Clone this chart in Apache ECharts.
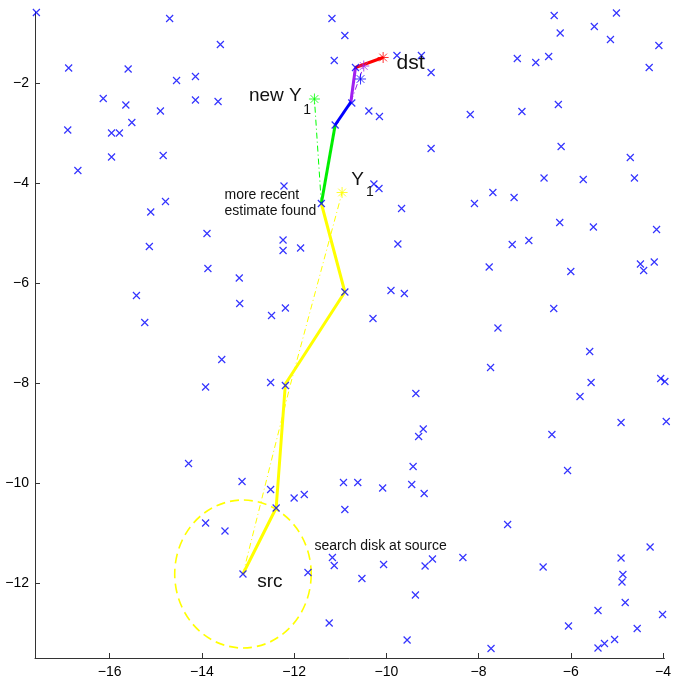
<!DOCTYPE html>
<html>
<head>
<meta charset="utf-8">
<script src="https://cdn.jsdelivr.net/npm/echarts@6/dist/echarts.min.js"></script>
<style>
html,body{margin:0;padding:0;background:#fff;}
#chart{width:674px;height:679px;}
</style>
</head>
<body>
<div id="chart"></div>
<script>
// ---- data ----
const nodes = [
  [-17.59,-0.59],[-14.70,-0.71],[-13.60,-1.23],[-11.18,-0.71],[-11.13,-1.55],
  [-16.89,-1.70],[-15.60,-1.72],[-14.55,-1.95],[-14.14,-1.87],[-16.14,-2.31],
  [-15.65,-2.44],[-14.14,-2.34],[-13.65,-2.37],[-14.90,-2.56],[-15.52,-2.79],
  [-16.91,-2.94],[-15.96,-3.00],[-15.79,-3.00],[-15.96,-3.48],[-14.84,-3.45],
  [-16.69,-3.75],[-11.11,-2.84],[-12.22,-4.06],[-14.79,-4.37],[-15.11,-4.58],
  [-11.41,-4.41],[-13.89,-5.01],[-15.14,-5.27],[-12.24,-5.14],[-12.24,-5.35],
  [-11.86,-5.30],[-13.87,-5.71],[-13.19,-5.90],[-15.42,-6.25],[-13.18,-6.41],
  [-15.24,-6.79],[-12.49,-6.65],[-12.19,-6.50],[-10.90,-1.05],[-9.77,-1.45],
  [-9.24,-1.45],[-9.03,-1.79],[-10.67,-1.69],[-10.75,-2.40],[-10.38,-2.56],
  [-10.15,-2.67],[-9.03,-3.31],[-10.27,-4.02],[-10.16,-4.11],[-9.67,-4.51],
  [-9.75,-5.22],[-10.90,-6.18],[-9.90,-6.15],[-9.61,-6.21],[-10.29,-6.71],
  [-7.58,-6.90],[-6.36,-0.65],[-5.01,-0.60],[-5.49,-0.87],[-6.23,-1.00],
  [-5.14,-1.13],[-4.09,-1.25],[-7.16,-1.51],[-6.76,-1.59],[-6.48,-1.47],
  [-4.30,-1.69],[-8.18,-2.63],[-7.06,-2.57],[-6.27,-2.43],[-6.21,-3.27],
  [-4.71,-3.49],[-6.58,-3.90],[-5.73,-3.93],[-4.62,-3.90],[-7.69,-4.19],
  [-7.23,-4.29],[-8.09,-4.41],[-6.24,-4.79],[-5.51,-4.88],[-4.14,-4.93],
  [-7.27,-5.23],[-6.91,-5.15],[-7.77,-5.68],[-6.00,-5.77],[-4.49,-5.62],
  [-4.42,-5.75],[-4.19,-5.58],[-6.37,-6.51],[-13.57,-7.53],[-13.92,-8.08],
  [-12.51,-7.99],[-12.19,-8.05],[-14.29,-9.61],[-13.13,-9.97],[-12.51,-10.13],
  [-12.39,-10.50],[-12.00,-10.30],[-11.78,-10.23],[-13.92,-10.80],[-13.50,-10.96],
  [-13.11,-11.82],[-11.70,-11.79],[-11.17,-11.49],[-11.13,-11.65],[-11.24,-12.80],
  [-5.59,-7.37],[-7.74,-7.69],[-5.56,-7.99],[-5.80,-8.27],[-9.36,-8.21],
  [-4.05,-7.91],[-3.96,-7.97],[-4.91,-8.79],[-3.93,-8.77],[-9.20,-8.92],
  [-9.30,-9.07],[-6.41,-9.03],[-6.07,-9.75],[-9.42,-9.67],[-10.93,-9.99],
  [-10.62,-9.99],[-10.08,-10.10],[-9.45,-10.03],[-9.18,-10.21],[-10.90,-10.53],
  [-7.37,-10.83],[-4.28,-11.28],[-10.06,-11.63],[-9.00,-11.52],[-9.16,-11.66],
  [-8.34,-11.49],[-10.53,-11.91],[-6.60,-11.68],[-4.91,-11.50],[-4.87,-11.83],
  [-4.89,-11.98],[-9.37,-12.24],[-4.82,-12.39],[-5.41,-12.55],[-4.01,-12.63],
  [-6.05,-12.86],[-4.56,-12.91],[-5.05,-13.13],[-5.27,-13.21],[-5.41,-13.30],
  [-9.55,-13.14],[-7.73,-13.31]
];

const yellowPath = [[-13.11,-11.82],[-12.39,-10.50],[-12.19,-8.02],[-10.90,-6.18],[-11.41,-4.41]];
const greenPath  = [[-11.41,-4.41],[-11.11,-2.84]];
const bluePath   = [[-11.11,-2.84],[-10.77,-2.38]];
const purplePath = [[-10.77,-2.38],[-10.67,-1.69]];
const redPath    = [[-10.67,-1.69],[-10.07,-1.49]];

const yellowEstimate = [[-13.11,-11.82],[-12.08,-8.03],[-10.96,-4.19]];
const greenEstimate  = [[-11.41,-4.41],[-11.56,-2.32]];
const purpleEstimate = [[-10.77,-2.38],[-10.49,-1.66]];

const yellowStar = [[-10.96,-4.19]];
const greenStar  = [[-11.56,-2.32]];
const purpleStar = [[-10.49,-1.66]];
const blueStar   = [[-10.56,-1.92]];
const redStar    = [[-10.07,-1.49]];

const searchDisk = [[-13.11,-11.82,1.48]]; // centre x, centre y, radius

const xTicks = [-16,-14,-12,-10,-8,-6,-4];
const yTicks = [-12,-10,-8,-6,-4,-2];

const annotations = [
  {text:'dst', at:[-9.78,-1.60], size:21},
  {text:'new Y', at:[-12.98,-2.25], size:19},
  {text:'1', at:[-11.80,-2.54], size:14},
  {text:'Y', at:[-10.76,-3.93], size:19},
  {text:'1', at:[-10.44,-4.18], size:14},
  {text:'more recent\nestimate found', at:[-13.51,-4.41], size:14},
  {text:'search disk at source', at:[-11.56,-11.26], size:14},
  {text:'src', at:[-12.80,-11.97], size:19}
];

// ---- chart ----
const FONT = '"Liberation Sans", Arial, Helvetica, sans-serif';
const xPath = 'path://M0,0L10,10M10,0L0,10';
const starPath = 'path://M5,0L5,10M0,5L10,5M1.5,1.5L8.5,8.5M8.5,1.5L1.5,8.5';
const minus = v => String(v).replace('-', '\u2212');

function lineSeries(data, color, width, type, z) {
  return {
    type: 'line', data: data, symbol: 'none', silent: true, z: z,
    lineStyle: {color: color, width: width, type: type}, animation: false
  };
}
function starSeries(data, color) {
  return {
    type: 'scatter', data: data, symbol: starPath, symbolSize: 11, z: 6,
    itemStyle: {color: 'none', borderColor: color, borderWidth: 1}, animation: false, clip: false
  };
}

const chart = echarts.init(document.getElementById('chart'), null, {renderer: 'canvas'});
chart.setOption({
  backgroundColor: '#ffffff',
  animation: false,
  grid: {left: 35, right: 2, top: 12, bottom: 21},
  xAxis: {
    type: 'value', min: -17.62, max: -3.97,
    axisLine: {show: true, lineStyle: {color: '#333', width: 1}},
    axisTick: {show: true, inside: true, length: 5, lineStyle: {color: '#333'}, customValues: xTicks},
    axisLabel: {customValues: xTicks, formatter: minus, color: '#000', fontSize: 14, fontFamily: FONT, margin: 7},
    splitLine: {show: false}
  },
  yAxis: {
    type: 'value', min: -13.5, max: -0.58,
    axisLine: {show: true, lineStyle: {color: '#333', width: 1}},
    axisTick: {show: true, inside: true, length: 5, lineStyle: {color: '#333'}, customValues: yTicks},
    axisLabel: {customValues: yTicks, formatter: minus, color: '#000', fontSize: 14, fontFamily: FONT, margin: 6},
    splitLine: {show: false}
  },
  series: [
    {
      type: 'custom', data: searchDisk, z: 2, silent: true,
      encode: {x: 0, y: 1},
      renderItem: function (params, api) {
        const c = api.coord([api.value(0), api.value(1)]);
        const rx = api.size([api.value(2), 0])[0];
        const ry = api.size([0, api.value(2)])[1];
        return {
          type: 'circle', x: c[0], y: c[1], scaleX: 1, scaleY: ry / rx,
          shape: {cx: 0, cy: 0, r: rx},
          style: {fill: 'none', stroke: '#ffff00', lineWidth: 1.6, lineDash: [9, 5], strokeNoScale: true}
        };
      }
    },
    lineSeries(yellowEstimate, '#ffff00', 1, [6, 3, 1, 3], 3),
    lineSeries(greenEstimate, '#00ff00', 1, [6, 3, 1, 3], 3),
    lineSeries(purpleEstimate, '#a020f0', 1, [6, 3, 1, 3], 3),
    lineSeries(yellowPath, '#ffff00', 3, 'solid', 4),
    lineSeries(greenPath, '#00ee00', 3, 'solid', 4),
    lineSeries(bluePath, '#0000ff', 3, 'solid', 4),
    lineSeries(purplePath, '#a020f0', 3, 'solid', 4),
    lineSeries(redPath, '#ff0000', 3, 'solid', 4),
    {
      type: 'scatter', data: nodes, symbol: xPath, symbolSize: 7, z: 5, clip: false,
      itemStyle: {color: 'none', borderColor: '#0000ff', borderWidth: 1.2}, animation: false
    },
    starSeries(yellowStar, '#ffff00'),
    starSeries(greenStar, '#00ff00'),
    starSeries(purpleStar, '#a020f0'),
    starSeries(blueStar, '#0000ff'),
    starSeries(redStar, '#ff0000'),
    {
      type: 'custom', z: 7, silent: true,
      data: annotations.map(a => [a.at[0], a.at[1]]),
      encode: {x: 0, y: 1},
      renderItem: function (params, api) {
        const a = annotations[params.dataIndex];
        const p = api.coord([api.value(0), api.value(1)]);
        return {
          type: 'text', x: p[0], y: p[1],
          style: {
            text: a.text, fill: '#111', fontSize: a.size, fontFamily: FONT,
            align: 'left', verticalAlign: 'middle', lineHeight: a.size + 2
          }
        };
      }
    }
  ]
});
</script>
</body>
</html>
